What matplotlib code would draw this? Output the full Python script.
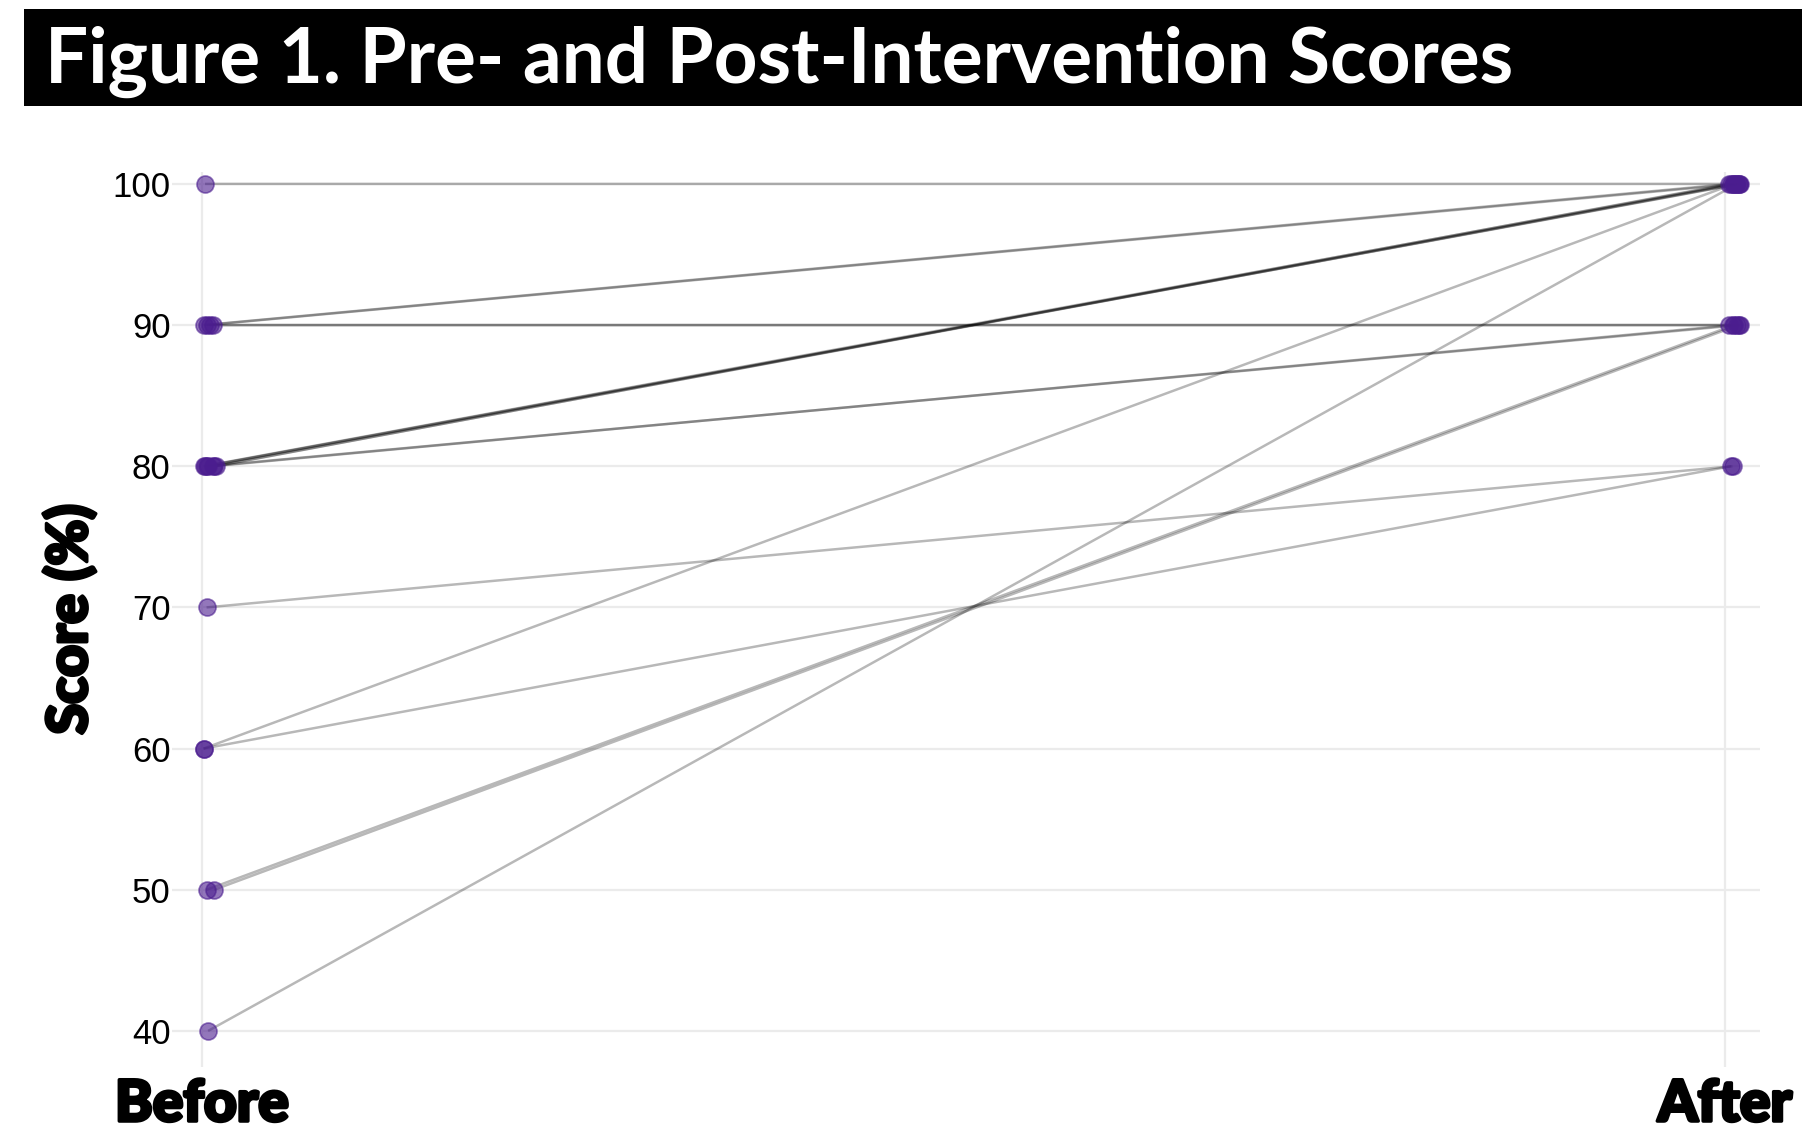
import matplotlib
matplotlib.use('Agg')
import matplotlib.pyplot as plt
import matplotlib.patheffects as pe
from matplotlib.patches import Rectangle
import numpy as np

# scores per participant
before = [100, 90, 90, 90, 90, 80, 80, 80, 80, 80, 80, 80, 70, 60, 60, 50, 50, 40]
after = [100, 100, 100, 90, 90, 100, 100, 100, 100, 100, 90, 90, 80, 100, 80, 90, 90, 100]
# small horizontal jitter of each point, as seen in the picture
before_jit = [0.002, 0.001, 0.003, 0.005, 0.007, 0.001, 0.003, 0.008, 0.009, 0.002,
              0.007, 0.004, 0.003, 0.001, 0.001, 0.003, 0.008, 0.004]
after_jit = [0.006, 0.004, 0.009, 0.003, 0.008, 0.005, 0.010, 0.007, 0.003, 0.009,
             0.005, 0.010, 0.005, 0.006, 0.004, 0.006, 0.009, 0.008]
groups = ['Before', 'After']
y_ticks = [40, 50, 60, 70, 80, 90, 100]
title = 'Figure 1. Pre- and Post-Intervention Scores'

purple = '#4b1d8f'
heavy = [pe.withStroke(linewidth=2.5, foreground='black')]

fig = plt.figure(figsize=(18.2, 11.46), dpi=100)
ax = fig.add_axes([0.0945, 0.069, 0.8725, 0.781])

xb = 1 + np.array(before_jit)
xa = 2 + np.array(after_jit)
for i in range(len(before)):
    ax.plot([xb[i], xa[i]], [before[i], after[i]], color='black', alpha=0.28,
            lw=1.8, solid_capstyle='butt', snap=False, zorder=2)

ax.scatter(xb, before, s=150, color=purple, alpha=0.6, edgecolors=purple,
           linewidths=1.2, zorder=3)
ax.scatter(xa, after, s=150, color=purple, alpha=0.6, edgecolors=purple,
           linewidths=1.2, zorder=3)

ax.set_xlim(0.9803, 2.023)
ax.set_ylim(37.45, 100.85)
ax.set_xticks([1, 2])
ax.set_xticklabels(groups, fontfamily='Lato', fontweight='black', fontsize=41)
for lbl in ax.get_xticklabels():
    lbl.set_path_effects(heavy)
ax.set_yticks(y_ticks)
ax.set_yticklabels([str(v) for v in y_ticks], fontfamily='Liberation Sans', fontsize=25)
ax.tick_params(axis='both', length=0)
ax.tick_params(axis='y', pad=1)
ax.tick_params(axis='x', pad=8)
for s in ax.spines.values():
    s.set_visible(False)
ax.grid(True, color='#ebebeb', lw=1.6, zorder=0)
ax.set_axisbelow(True)
ax.set_ylabel('Score (%)', fontfamily='Lato', fontweight='black', fontsize=40,
              path_effects=heavy)
ax.yaxis.set_label_coords(-0.048, 0.5)

# black title banner
fig.patches.append(Rectangle((24 / 1820, 1 - 106 / 1146), (1802 - 24) / 1820, 97 / 1146,
                             transform=fig.transFigure, facecolor='black', lw=0, zorder=0))
fig.text(45 / 1820, 1 - 62 / 1146, title, color='white', fontfamily='Lato',
         fontweight='bold', fontsize=55, va='center', ha='left')

fig.savefig('out.png', dpi=100)
